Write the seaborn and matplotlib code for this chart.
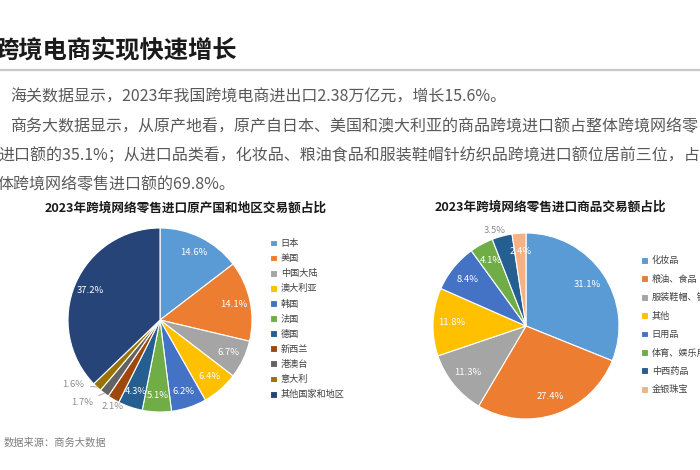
import numpy as np
import pandas as pd
import matplotlib
matplotlib.use('Agg')
import matplotlib.pyplot as plt
from matplotlib.lines import Line2D
import seaborn as sns

sns.set_theme(style='white')
plt.rcParams['font.family'] = ['Noto Sans CJK SC', 'DejaVu Sans']

# -----------------------

origin_names = ['日本', '美国', '中国大陆', '澳大利亚', '韩国', '法国', '德国',
	'新西兰', '港澳台', '意大利', '其他国家和地区']
origin_share = [14.6, 14.1, 6.7, 6.4, 6.2, 5.1, 4.3, 2.1, 1.7, 1.6, 37.2]
origin_colors = ['#5B9BD5', '#ED7D31', '#A5A5A5', '#FFC000', '#4472C4', '#70AD47',
	'#255E91', '#9E480E', '#636363', '#997300', '#264478']

goods_names = ['化妆品', '粮油、食品', '服装鞋帽、针纺织品', '其他', '日用品',
	'体育、娱乐用品', '中西药品', '金银珠宝']
goods_share = [31.1, 27.4, 11.3, 11.8, 8.4, 4.1, 3.5, 2.4]
goods_colors = ['#5B9BD5', '#ED7D31', '#A5A5A5', '#FFC000', '#4472C4', '#70AD47',
	'#255E91', '#F4B183']

title = '跨境电商实现快速增长'
para = [
	'海关数据显示，2023年我国跨境电商进出口2.38万亿元，增长15.6%。',
	'商务大数据显示，从原产地看，原产自日本、美国和澳大利亚的商品跨境进口额占整体跨境网络零',
	'进口额的35.1%；从进口品类看，化妆品、粮油食品和服装鞋帽针纺织品跨境进口额位居前三位，占',
	'体跨境网络零售进口额的69.8%。',
]
chart_titles = ['2023年跨境网络零售进口原产国和地区交易额占比', '2023年跨境网络零售进口商品交易额占比']
source = '数据来源：商务大数据'

df_o = pd.DataFrame({'name': origin_names, 'share': origin_share})
df_g = pd.DataFrame({'name': goods_names, 'share': goods_share})

# -----------------------

W, H = 700, 470
PCT_FS = 6.8
LEG_FS = 6.6
fig = plt.figure(figsize=(7, 4.7), dpi=100)
fig.patch.set_facecolor('white')

def fy(y):
	return 1 - y / H

def pie_axes(cx, cy, r, lim=1.3):
	s = 2 * lim * r
	ax = fig.add_axes([(cx - s / 2) / W, (H - cy - s / 2) / H, s / W, s / H])
	return ax

def mid(w):
	return np.deg2rad((w.theta1 + w.theta2) / 2)

def draw_pie(ax, df, colors, outside, pctd=0.82):
	wedges, _ = ax.pie(df['share'], colors=sns.color_palette(colors), startangle=90,
		counterclock=False, wedgeprops=dict(edgecolor='white', linewidth=0.8))
	ax.set_xlim(-1.3, 1.3)
	ax.set_ylim(-1.3, 1.3)
	ax.set_aspect('equal')
	ax.axis('off')
	for i, (w, v) in enumerate(zip(wedges, df['share'])):
		if i in outside:
			continue
		a = mid(w)
		ax.text(pctd * np.cos(a), pctd * np.sin(a), '%.1f%%' % v, color='white',
			ha='center', va='center', fontsize=PCT_FS)
	return wedges

# left pie
axl = pie_axes(160, 320, 92)
wl = draw_pie(axl, df_o, origin_colors, [7, 8, 9])
out_pos = {7: (-0.52, -0.94), 8: (-0.73, -0.90), 9: (-0.82, -0.70)}
for i, (tx, ty) in out_pos.items():
	a = mid(wl[i])
	lbl = '%.1f%%' % df_o['share'][i]
	if i == 7:
		axl.text(tx, ty, lbl, color='#8C8C8C', ha='center', va='center', fontsize=PCT_FS)
	else:
		axl.annotate(lbl, xy=(np.cos(a), np.sin(a)), xytext=(tx, ty), color='#8C8C8C',
			ha='right', va='center', fontsize=PCT_FS,
			arrowprops=dict(arrowstyle='-', color='#A6A6A6', lw=0.7, shrinkA=2, shrinkB=0))
axl.legend(wl, origin_names, loc='upper left', bbox_to_anchor=(262 / W, fy(231)),
	bbox_transform=fig.transFigure, frameon=False, fontsize=LEG_FS, labelspacing=0.66,
	handlelength=0.75, handleheight=0.75, handletextpad=0.4, labelcolor='#404040')

# right pie
axr = pie_axes(526, 326, 93)
wr = draw_pie(axr, df_g, goods_colors, [6], pctd=0.8)
a = mid(wr[6]) + np.deg2rad(3)
axr.text(1.08 * np.cos(a), 1.08 * np.sin(a), '%.1f%%' % df_g['share'][6], color='#8C8C8C',
	ha='center', va='center', fontsize=PCT_FS)
axr.legend(wr, goods_names, loc='upper left', bbox_to_anchor=(633 / W, fy(248)),
	bbox_transform=fig.transFigure, frameon=False, fontsize=LEG_FS, labelspacing=1.02,
	handlelength=0.75, handleheight=0.75, handletextpad=0.4, labelcolor='#404040')

# -----------------------

fig.text(-6 / W, fy(50), title, fontsize=17.5, fontweight='bold', color='#1A1A1A',
	ha='left', va='center')
fig.add_artist(Line2D([0, 1], [fy(70), fy(70)], color='#C8C8C8', lw=1.6))

para_x = [10, 10, -2, -3]
para_y = [97, 127, 156, 185]
for s, x, y in zip(para, para_x, para_y):
	fig.text(x / W, fy(y), s, fontsize=11.5, color='#595959', ha='left', va='center')

fig.text(186 / W, fy(208), chart_titles[0], fontsize=9.1, fontweight='bold',
	color='#1A1A1A', ha='center', va='center')
fig.text(550 / W, fy(207), chart_titles[1], fontsize=9.1, fontweight='bold',
	color='#1A1A1A', ha='center', va='center')

fig.text(4 / W, fy(443), source, fontsize=7.4, color='#7F7F7F', ha='left', va='center',
	style='italic')

plt.savefig('out.png', dpi=100)
